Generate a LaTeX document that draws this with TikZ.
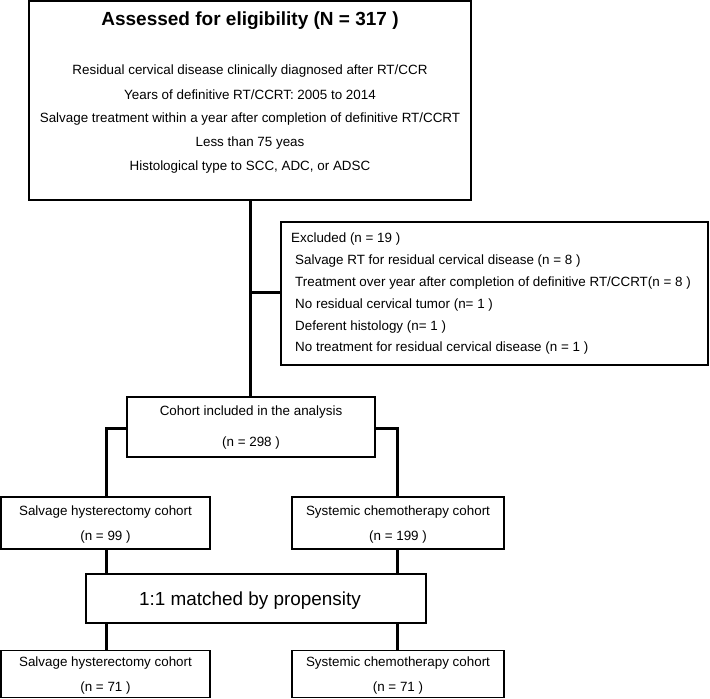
\documentclass[tikz,border=0pt]{standalone}
\usepackage{fontspec}
\setmainfont{Liberation Sans}
\begin{document}
\begin{tikzpicture}[x=1pt,y=-1pt,
  box/.style={draw=black, line width=1.3pt, inner sep=0pt, rectangle},
  conn/.style={draw=black, line width=3pt},
  txt/.style={inner sep=0pt, anchor=center},
  ltxt/.style={inner sep=0pt, anchor=west},
  crit/.style={txt, font=\fontsize{13.4}{15}\selectfont},
  small/.style={txt, font=\fontsize{13.4}{15}\selectfont},
  extxt/.style={ltxt, font=\fontsize{13.4}{15}\selectfont}
]
\useasboundingbox (0,0) rectangle (710,699);
% boxes
\node[box, minimum width=442pt, minimum height=199pt] (main) at (250,100.5) {};
\node[box, minimum width=427pt, minimum height=143pt] (excl) at (494.5,293.5) {};
\node[box, minimum width=248pt, minimum height=60pt] (coh) at (251,427) {};
\node[box, minimum width=209pt, minimum height=52pt] (sal) at (105.5,523) {};
\node[box, minimum width=212pt, minimum height=52pt] (sys) at (398,523) {};
\node[box, minimum width=340pt, minimum height=49pt] (match) at (256,598.5) {};
\node[box, minimum width=209pt, minimum height=47pt] (sal2) at (105.5,674) {};
\node[box, minimum width=212pt, minimum height=47pt] (sys2) at (398,674) {};
% main texts
\node[txt, font=\bfseries\fontsize{19}{22}\selectfont] (title) at (250,21) {Assessed for eligibility (N = 317 )};
\node[crit] (c1) at (250,71) {Residual cervical disease clinically diagnosed after RT/CCR};
\node[crit] (c2) at (250,95) {Years of definitive RT/CCRT: 2005 to 2014};
\node[crit] (c3) at (250,119) {Salvage treatment within a year after completion of definitive RT/CCRT};
\node[crit] (c4) at (250,143) {Less than 75 yeas};
\node[crit] (c5) at (250,167) {Histological type to SCC, ADC, or ADSC};
% excluded texts
\node[extxt] (e0) at (291,239) {Excluded (n = 19 )};
\node[extxt] (e1) at (295,261) {Salvage RT for residual cervical disease (n = 8 )};
\node[extxt] (e2) at (295,283) {Treatment over year after completion of definitive RT/CCRT(n = 8 )};
\node[extxt] (e3) at (295,305) {No residual cervical tumor (n= 1 )};
\node[extxt] (e4) at (295,327) {Deferent histology (n= 1 )};
\node[extxt] (e5) at (295,348) {No treatment for residual cervical disease (n = 1 )};
% cohort texts
\node[small] (h1) at (251,412) {Cohort included in the analysis};
\node[small] (h2) at (251,443) {(n = 298 )};
\node[small] (s1) at (105.5,512) {Salvage hysterectomy cohort};
\node[small] (s2) at (105.5,537) {(n = 99 )};
\node[small] (y1) at (398,512) {Systemic chemotherapy cohort};
\node[small] (y2) at (398,537) {(n = 199 )};
\node[txt, font=\fontsize{18.9}{21}\selectfont] (m1) at (250,601) {1:1 matched by propensity};
\node[small] (s3) at (105.5,663) {Salvage hysterectomy cohort};
\node[small] (s4) at (105.5,688) {(n = 71 )};
\node[small] (y3) at (398,663) {Systemic chemotherapy cohort};
\node[small] (y4) at (398,688) {(n = 71 )};
% connectors
\coordinate (br) at (250,292);
\coordinate (cl) at (106,428);
\coordinate (cr) at (397,428);
\draw[conn] (main.south -| br) -- (coh.north -| br);
\draw[conn] (br) -- (excl.west |- br);
\draw[conn] (coh.west |- cl) -- (cl) -- (sal.north -| cl);
\draw[conn] (coh.east |- cr) -- (cr) -- (sys.north -| cr);
\draw[conn] (sal.south -| cl) -- (match.north -| cl);
\draw[conn] (sys.south -| cr) -- (match.north -| cr);
\draw[conn] (match.south -| cl) -- (sal2.north -| cl);
\draw[conn] (match.south -| cr) -- (sys2.north -| cr);
\end{tikzpicture}
\end{document}
